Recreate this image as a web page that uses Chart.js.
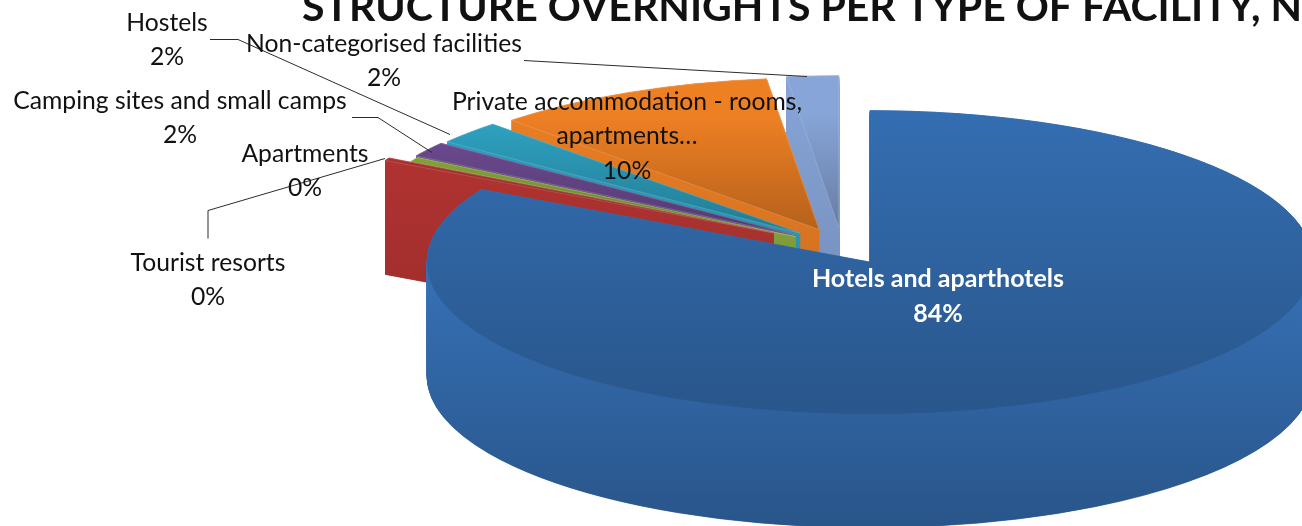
<!DOCTYPE html>
<html>
<head>
<meta charset="utf-8">
<style>
  html, body { margin: 0; padding: 0; background: #fff; overflow: hidden; }
  canvas { display: block; }
</style>
<script src="https://cdn.jsdelivr.net/npm/chart.js@4/dist/chart.umd.min.js"></script>
</head>
<body>
<canvas id="myChart" width="1302" height="526"></canvas>
<script>
var chartTitle = 'STRUCTURE OVERNIGHTS PER TYPE OF FACILITY, N';
var categories = [
    'Hotels and aparthotels',
    'Tourist resorts',
    'Apartments',
    'Camping sites and small camps',
    'Hostels',
    ['Private accommodation - rooms,', 'apartments…'],
    'Non-categorised facilities'
];
// the printed labels are rounded
var overnightShares = [83.6, 0.3, 0.49, 1.6, 2.49, 10.4, 1.9];
var shareLabels = ['84%', '0%', '0%', '2%', '2%', '10%', '2%'];

var sliceColors = ['#3671b7', '#b83533', '#8cae3c', '#6f4c93', '#2ea2c1', '#ee8024', '#87a5d8'];

// pie geometry on the page
var pieX = 842, pieY = 246, pieRadius = 443, squash = 0.342, pieDepth = 114;
var sliceExplode = [55, 78, 54, 58, 56, 54, 55];
// back slices first, hotels last
var drawOrder = [6, 5, 4, 3, 2, 1, 0];

var labelSpots = [[938, 279], [208, 263], [305, 154], [180, 101], [167, 23], [627, 102], [384, 44]];
var leaderLines = [
    [[208, 238], [208, 210], [385, 158]],
    [[352, 117], [378, 117], [432, 152]],
    [[210, 39], [238, 39], [450, 134]],
    [[524, 60], [807, 76]]
];

function shade(hex, f) {
    var n = parseInt(hex.slice(1), 16);
    return 'rgb(' + Math.round((n >> 16) * f) + ',' + Math.round(((n >> 8) & 255) * f) + ',' + Math.round((n & 255) * f) + ')';
}

function paintArc(ctx, arc, fill, border, width) {
    var saved = arc.options;
    arc.options = Object.assign({}, saved, { backgroundColor: fill, borderColor: border, borderWidth: width, borderJoinStyle: 'round' });
    arc.draw(ctx);
    arc.options = saved;
}

function paintSlice(ctx, arc, i) {
    var mid = (arc.startAngle + arc.endAngle) / 2;
    var cx = pieX + Math.cos(mid) * sliceExplode[i];
    var cy = pieY + Math.sin(mid) * sliceExplode[i] * squash;
    var ry = pieRadius * squash;
    var front = Math.sin(mid) > 0;
    var base = sliceColors[i];

    // side walls: the slice stacked on itself, thin slices need the border to stay solid
    for (var d = pieDepth; d >= 0; d -= 0.5) {
        ctx.save();
        ctx.translate(cx, cy + d);
        ctx.scale(1, squash);
        ctx.translate(-arc.x, -arc.y);
        var wallTop = arc.y + ((front ? 0 : -ry) - d) / squash;
        var wallBottom = arc.y + (pieDepth + (front ? ry : 0) - d) / squash;
        var wall = ctx.createLinearGradient(0, wallTop, 0, wallBottom);
        wall.addColorStop(0, base);
        wall.addColorStop(1, shade(base, front ? 0.75 : 0.85));
        paintArc(ctx, arc, wall, wall, 1);
        ctx.restore();
    }

    // top face
    ctx.save();
    ctx.translate(cx, cy);
    ctx.scale(1, squash);
    ctx.translate(-arc.x, -arc.y);
    var face = ctx.createLinearGradient(0, arc.y - pieRadius, 0, arc.y + (front ? pieRadius : 0));
    if (front) {
        face.addColorStop(0, shade(base, 0.97));
    } else {
        face.addColorStop(0, base);
        face.addColorStop(0.25, base);
    }
    face.addColorStop(1, shade(base, 0.76));
    paintArc(ctx, arc, face, front ? face : 'rgba(255,255,255,0.22)', 1);
    ctx.restore();
}

var pie3d = {
    id: 'pie3d',
    beforeDatasetDraw: function (chart) {
        var ctx = chart.ctx;
        var arcs = chart.getDatasetMeta(0).data;
        drawOrder.forEach(function (i) {
            paintSlice(ctx, arcs[i], i);
        });
        return false;
    },
    afterDraw: function (chart) {
        var ctx = chart.ctx;
        ctx.save();

        // leader lines
        ctx.strokeStyle = '#2b2b2b';
        ctx.lineWidth = 1;
        leaderLines.forEach(function (pts) {
            ctx.beginPath();
            pts.forEach(function (p, n) {
                if (n === 0) ctx.moveTo(p[0], p[1] + 0.5);
                else ctx.lineTo(p[0], p[1] + 0.5);
            });
            ctx.stroke();
        });

        // data labels
        ctx.textAlign = 'center';
        ctx.textBaseline = 'middle';
        categories.forEach(function (cat, i) {
            var rows = [].concat(cat, shareLabels[i]);
            ctx.font = (i === 0 ? 'bold 25px' : '24.7px') + ' Lato';
            ctx.fillStyle = i === 0 ? '#ffffff' : '#111111';
            rows.forEach(function (row, n) {
                ctx.fillText(row, labelSpots[i][0], labelSpots[i][1] + n * 34.5);
            });
        });

        // title, runs off the page like the original
        ctx.textAlign = 'left';
        ctx.textBaseline = 'alphabetic';
        ctx.font = 'bold 41px Lato';
        ctx.fillStyle = '#111111';
        ctx.fillText(chartTitle, 302, 21);
        ctx.restore();
    }
};

var myChart = new Chart(document.getElementById('myChart').getContext('2d'), {
    type: 'pie',
    data: {
        labels: categories,
        datasets: [{
            data: overnightShares,
            backgroundColor: sliceColors,
            borderWidth: 0,
            radius: pieRadius
        }]
    },
    options: {
        responsive: false,
        animation: false,
        plugins: {
            legend: { display: false },
            tooltip: { enabled: false }
        }
    },
    plugins: [pie3d]
});
</script>
</body>
</html>
